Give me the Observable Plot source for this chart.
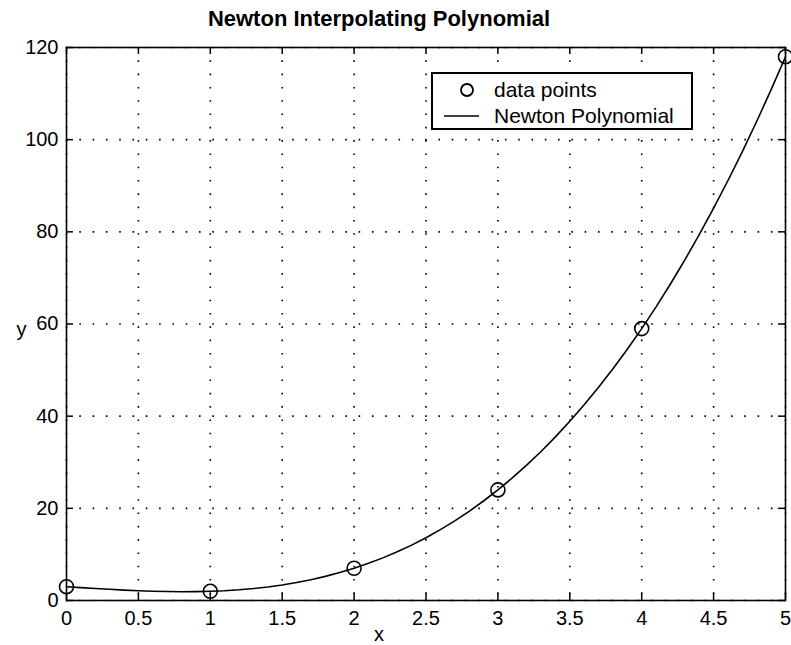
<!DOCTYPE html>
<html>
<head>
<meta charset="utf-8">
<script src="https://cdn.jsdelivr.net/npm/d3@7"></script>
<script src="https://cdn.jsdelivr.net/npm/@observablehq/plot@0.6"></script>
<style>
  body { margin: 0; background: #fff; }
  #wrap { position: relative; width: 791px; height: 645px; font-family: "Liberation Sans", Arial, sans-serif; }
  #legend { position: absolute; left: 431px; top: 72px; width: 262px; height: 58px; box-sizing: border-box;
            border: 2px solid #000; background: #fff; }
  #legend svg { position: absolute; left: 0; top: 0; }
  #legend .t { position: absolute; left: 61px; font-size: 21px; color: #000; line-height: 1; }
</style>
</head>
<body>
<div id="wrap"></div>
<script>
// Data points
const pointX = [0, 1, 2, 3, 4, 5];
const pointY = [3, 2, 7, 24, 59, 118];

// Newton polynomial curve, sampled every 0.1
const curveX = [0,0.1,0.2,0.3,0.4,0.5,0.6,0.7,0.8,0.9,1,1.1,1.2,1.3,1.4,1.5,1.6,1.7,1.8,1.9,2,2.1,2.2,2.3,2.4,2.5,2.6,2.7,2.8,2.9,3,3.1,3.2,3.3,3.4,3.5,3.6,3.7,3.8,3.9,4,4.1,4.2,4.3,4.4,4.5,4.6,4.7,4.8,4.9,5];
const curveY = [3,2.80,2.61,2.43,2.26,2.13,2.02,1.94,1.91,1.93,2,2.13,2.33,2.60,2.94,3.38,3.90,4.51,5.23,6.06,7,8.06,9.25,10.57,12.02,13.63,15.38,17.28,19.35,21.59,24,26.59,29.37,32.34,35.50,38.88,42.46,46.25,50.27,54.52,59,63.72,68.69,73.91,79.38,85.13,91.14,97.42,103.99,110.85,118];

const xTicks = [0,0.5,1,1.5,2,2.5,3,3.5,4,4.5,5];
const yTicks = [0,20,40,60,80,100,120];

const titleText = "Newton Interpolating Polynomial";
const xLabel = "x";
const yLabel = "y";
const legendLabels = ["data points", "Newton Polynomial"];

const points = pointX.map((x, i) => ({x, y: pointY[i]}));
const curve = curveX.map((x, i) => ({x, y: curveY[i]}));

const font = "Liberation Sans, Arial, sans-serif";
const W = 791, H = 645, ML = 66, MR = 6, MT = 47, MB = 45;
const innerW = W - ML - MR, innerH = H - MT - MB, tick = 7;
const fmt = d => String(d);

const chart = Plot.plot({
  width: W,
  height: H,
  marginLeft: ML,
  marginRight: MR,
  marginTop: MT,
  marginBottom: MB,
  style: {fontFamily: font, fontSize: "20px", color: "#000", background: "#fff"},
  x: {domain: [0, 5]},
  y: {domain: [0, 120]},
  marks: [
    Plot.gridX(xTicks, {stroke: "#000", strokeOpacity: 1, strokeWidth: 1.6, strokeDasharray: "1.6,11.7"}),
    Plot.gridY(yTicks, {stroke: "#000", strokeOpacity: 1, strokeWidth: 1.6, strokeDasharray: "1.6,11.7"}),
    Plot.axisX(xTicks, {tickSize: 0, tickPadding: 10, label: null, fontSize: 20, tickFormat: fmt}),
    Plot.axisY(yTicks, {tickSize: 0, tickPadding: 8, label: null, fontSize: 20, tickFormat: fmt}),
    Plot.tickX(xTicks, {x: d => d, insetTop: innerH - tick, stroke: "#000", strokeWidth: 1.5}),
    Plot.tickX(xTicks, {x: d => d, insetBottom: innerH - tick, stroke: "#000", strokeWidth: 1.5}),
    Plot.tickY(yTicks, {y: d => d, insetRight: innerW - tick, stroke: "#000", strokeWidth: 1.5}),
    Plot.tickY(yTicks, {y: d => d, insetLeft: innerW - tick, stroke: "#000", strokeWidth: 1.5}),
    Plot.frame({stroke: "#000", strokeWidth: 1.6}),
    Plot.line(curve, {x: "x", y: "y", stroke: "#000", strokeWidth: 1.6}),
    Plot.dot(points, {x: "x", y: "y", r: 7, stroke: "#000", strokeWidth: 1.6, fill: "none"}),
    Plot.text([titleText], {frameAnchor: "top", lineAnchor: "middle", dx: -47, dy: -29, fontWeight: "bold", fontSize: 22, fill: "#000"}),
    Plot.text([xLabel], {frameAnchor: "bottom", lineAnchor: "middle", dx: -47, dy: 34, fontSize: 20, fill: "#000"}),
    Plot.text([yLabel], {frameAnchor: "left", lineAnchor: "middle", dx: -50, dy: 6, fontSize: 20, fill: "#000"})
  ]
});

const wrap = document.getElementById("wrap");
wrap.appendChild(chart);

// Legend
const legend = document.createElement("div");
legend.id = "legend";
legend.innerHTML = `
  <svg width="262" height="58">
    <circle cx="34" cy="16" r="6" fill="none" stroke="#000" stroke-width="1.8"></circle>
    <line x1="11" x2="46" y1="42" y2="42" stroke="#000" stroke-width="1.6"></line>
  </svg>
  <div class="t" style="top:5px">${legendLabels[0]}</div>
  <div class="t" style="top:31px">${legendLabels[1]}</div>`;
wrap.appendChild(legend);
</script>
</body>
</html>
